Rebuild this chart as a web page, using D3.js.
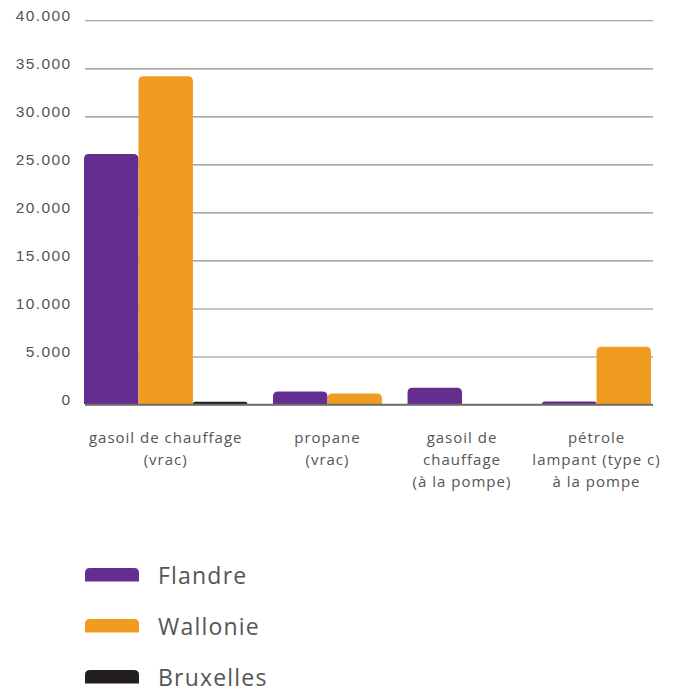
<!DOCTYPE html>
<html>
<head>
<meta charset="utf-8">
<script src="https://cdn.jsdelivr.net/npm/d3@7"></script>
<style>
  body { margin: 0; background: #fff; }
  svg { display: block; font-family: "Open Sans", sans-serif; }
  .tick text { fill: #555; font-size: 15.5px; letter-spacing: 1.4px; }
</style>
</head>
<body>
<div id="chart"></div>
<script>
// data
var categories = [
    ["gasoil de chauffage", "(vrac)"],
    ["propane", "(vrac)"],
    ["gasoil de", "chauffage", "(à la pompe)"],
    ["pétrole", "lampant (type c)", "à la pompe"]
];
var seriesNames = ["Flandre", "Wallonie", "Bruxelles"];
var seriesColors = ["#662d91", "#f09c22", "#231f20"];
// null = no bar slot in that group
var flandre   = [26080, 1350, 1740, 300];
var wallonie  = [34170, 1150, 0, 6020];
var bruxelles = [280, null, null, null];
var yTicks = [0, 5000, 10000, 15000, 20000, 25000, 30000, 35000, 40000];

var W = 673, H = 693;
var margin = {top: 20.3, left: 84, right: 20, bottom: 288.5};
var innerW = 651 - margin.left,
    innerH = 404.5 - margin.top;

var svg = d3.select("#chart").append("svg")
    .attr("width", W).attr("height", H);
var g = svg.append("g")
    .attr("transform", "translate(" + margin.left + "," + margin.top + ")");

var values = [flandre, wallonie, bruxelles];

// build slots: one per bar present, with a gap between groups
var gapUnits = 0.47;
var bars = [], groups = [];
var pos = 0;
categories.forEach(function(c, i) {
    var start = pos;
    values.forEach(function(arr, s) {
        if (arr[i] !== null) {
            bars.push({cat: i, series: s, value: arr[i], u: pos});
            pos += 1;
        }
    });
    groups.push({cat: i, start: start, end: pos});
    pos += gapUnits;
});
var totalUnits = pos - gapUnits;

var x = d3.scaleLinear().domain([0, totalUnits]).range([0, innerW]);
var y = d3.scaleLinear().domain([0, 40000]).range([innerH, 0]);

var locale = d3.formatLocale({decimal: ",", thousands: ".", grouping: [3], currency: ["", ""]});
var fmt = locale.format(",");

// y axis with gridlines
var yAxis = g.append("g")
    .call(d3.axisLeft(y).tickValues(yTicks).tickSize(-(653 - margin.left)).tickPadding(12.5).tickFormat(fmt));
yAxis.select(".domain").remove();
yAxis.selectAll(".tick line")
    .attr("x1", 1)
    .attr("stroke", function(d) { return d === 0 ? "#6e6e6e" : "#8c8c8c"; })
    .attr("stroke-width", function(d) { return d === 0 ? 1.6 : 1.1; });
yAxis.selectAll(".tick text").attr("dy", "-0.02em");

// bars with rounded top corners
function barPath(x0, w, y0, y1, r) {
    var h = y1 - y0;
    r = Math.min(r, h, w / 2);
    return "M" + x0 + "," + y1 +
        "V" + (y0 + r) +
        "Q" + x0 + "," + y0 + " " + (x0 + r) + "," + y0 +
        "H" + (x0 + w - r) +
        "Q" + (x0 + w) + "," + y0 + " " + (x0 + w) + "," + (y0 + r) +
        "V" + y1 + "Z";
}

g.append("g").selectAll("path")
    .data(bars.filter(function(d) { return d.value > 0; }))
    .join("path")
    .attr("fill", function(d) { return seriesColors[d.series]; })
    .attr("d", function(d) {
        var x0 = x(d.u), w = x(d.u + 1) - x(d.u);
        return barPath(x0, w, y(d.value), y(0) - 0.5, 5);
    });

// redraw baseline above bars
g.append("line")
    .attr("x1", 1).attr("x2", 653 - margin.left)
    .attr("y1", y(0)).attr("y2", y(0))
    .attr("stroke", "#6e6e6e").attr("stroke-width", 1.6);

// category labels
var labels = g.append("g").selectAll("text")
    .data(groups)
    .join("text")
    .attr("text-anchor", "middle")
    .attr("fill", "#555")
    .style("font-size", "15px")
    .style("letter-spacing", "1px")
    .attr("transform", function(d) {
        return "translate(" + x((d.start + d.end) / 2) + "," + (innerH + 38) + ")";
    });
labels.selectAll("tspan")
    .data(function(d) { return categories[d.cat]; })
    .join("tspan")
    .attr("x", 0)
    .attr("y", function(d, i) { return i * 22; })
    .text(function(d) { return d; });

// legend
var legend = svg.append("g").attr("transform", "translate(85,568)");
var li = legend.selectAll("g")
    .data(seriesNames)
    .join("g")
    .attr("transform", function(d, i) { return "translate(0," + (i * 51) + ")"; });
li.append("path")
    .attr("fill", function(d, i) { return seriesColors[i]; })
    .attr("d", barPath(0, 54, 0, 13.5, 5));
li.append("text")
    .attr("x", 73)
    .attr("y", 16)
    .attr("fill", "#555")
    .style("font-size", "23px")
    .style("letter-spacing", "1.2px")
    .text(function(d) { return d; });
</script>
</body>
</html>
